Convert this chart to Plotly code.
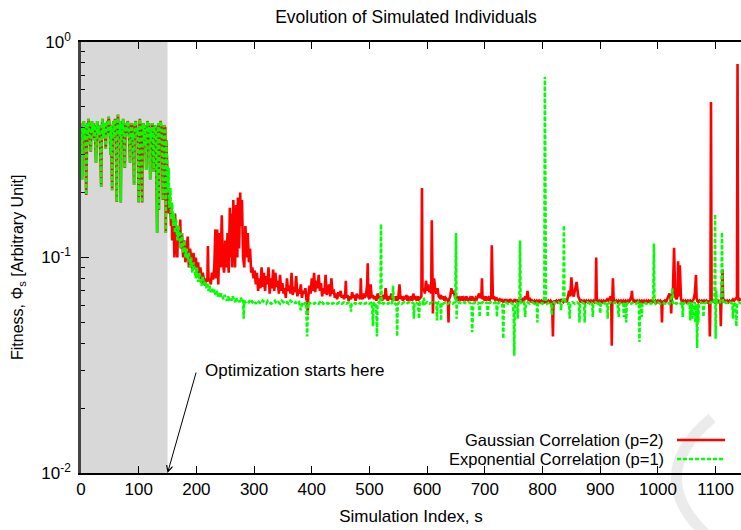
import plotly.graph_objects as go

# ---------------- data ----------------
# initial random-sampling phase (both series identical)
init_x = [0,1,2,3,4,5,6,7,8,9,
          10,11,12,13,14,15,17,18,19,20,
          22,23,24,26,27,28,30,31,33,35,
          36,37,39,40,41,43,44,46,47,48,
          50,51,52,54,55,56,58,59,60,62,
          63,64,65,67,68,69,70,72,73,74,
          76,77,78,80,81,83,85,86,88,89,
          90,92,93,95,96,98,100,101,102,104,
          106,107,108,110,111,113,114,115,117,118,
          120,121,122,124,126,127,128,130,132,133,
          134,135,136,138,140,142,143,144,146,147,
          148,149,150]
init_y = [0.40,0.36,0.23,0.42,0.38,0.43,0.35,0.41,0.33,0.195,
          0.40,0.42,0.37,0.44,0.39,0.36,0.31,0.40,0.43,0.38,
          0.42,0.35,0.41,0.275,0.39,0.43,0.37,0.41,0.34,0.213,
          0.39,0.44,0.36,0.42,0.38,0.32,0.41,0.43,0.37,0.45,
          0.39,0.30,0.41,0.205,0.38,0.43,0.36,0.44,0.40,0.181,
          0.39,0.46,0.41,0.37,0.43,0.18,0.42,0.38,0.44,0.34,
          0.26,0.40,0.42,0.37,0.43,0.39,0.275,0.40,0.42,0.35,
          0.38,0.217,0.41,0.43,0.37,0.40,0.18,0.39,0.44,0.36,
          0.18,0.40,0.42,0.33,0.41,0.255,0.39,0.43,0.38,0.42,
          0.23,0.40,0.36,0.42,0.25,0.39,0.41,0.37,0.13,0.38,
          0.42,0.166,0.40,0.43,0.38,0.185,0.36,0.41,0.40,0.13,
          0.35,0.30,0.25]

# Gaussian correlation (p=2), after optimisation starts
gauss_x = [151,152,154,156,157,158,160,162,163,165,
           167,168,170,172,173,175,177,179,181,183,
           185,187,189,191,193,195,197,199,201,203,
           205,207,209,211,213,215,217,219,220,221,
           223,225,227,229,231,233,234,236,238,240,
           242,244,246,248,250,252,254,256,258,259,
           261,262,264,266,267,269,271,272,274,276,
           277,279,281,283,285,287,289,291,293,295,
           297,299,301,303,305,307,309,311,313,315,
           317,319,321,323,325,327,329,331,333,335,
           337,339,341,343,345,347,349,351,353,355,
           357,359,361,363,365,367,369,371,373,375,
           377,379,381,383,385,387,389,391,392,393,
           394,396,398,400,402,404,406,408,410,412,
           414,416,418,420,422,424,426,428,430,432,
           434,436,438,440,442,444,446,448,450,452,
           454,456,458,459,460,462,464,466,468,470,
           472,474,476,478,480,482,484,485,486,488,
           490,492,494,496,497,498,500,502,504,506,
           508,510,512,514,516,518,520,522,524,526,
           528,530,532,534,536,538,540,542,544,546,
           548,550,552,554,556,558,560,562,564,566,
           568,570,572,574,576,578,580,582,584,586,
           588,590,591,592,594,596,598,600,602,604,
           606,607,608,609,610,611,612,614,616,618,
           620,622,624,626,628,630,632,634,636,637,
           638,640,642,644,646,648,650,652,654,656,
           658,660,662,664,666,668,670,672,674,676,
           678,680,682,684,686,688,690,692,694,695,
           696,698,700,702,704,706,708,710,711,712,
           713,714,716,718,720,722,724,726,728,730,
           732,734,736,738,740,742,744,746,748,750,
           752,754,756,758,760,762,764,766,768,770,
           772,774,776,778,780,782,784,786,788,790,
           792,794,796,798,800,802,804,806,808,810,
           812,814,816,817,818,819,820,822,824,826,
           828,830,832,834,836,838,840,842,844,846,
           848,850,852,854,856,859,862,864,866,868,
           870,872,874,876,878,880,882,884,886,888,
           890,892,893,894,896,898,900,902,904,906,
           908,910,912,914,916,918,919,920,921,922,
           923,924,926,928,930,932,934,936,938,940,
           942,944,946,948,950,952,954,955,956,958,
           960,962,964,966,968,970,972,974,976,978,
           980,982,984,986,988,990,992,994,996,998,
           1000,1002,1004,1006,1007,1008,1010,1012,1014,1016,
           1018,1020,1022,1023,1024,1026,1028,1029,1030,1032,
           1034,1035,1036,1038,1039,1040,1042,1044,1046,1048,
           1050,1052,1054,1056,1058,1060,1062,1064,1066,1067,
           1068,1070,1072,1074,1076,1078,1080,1082,1084,1086,
           1088,1089,1090,1091,1092,1093,1094,1096,1098,1100,
           1102,1104,1106,1108,1109,1110,1111,1112,1113,1114,
           1116,1118,1120,1122,1124,1126,1128,1130,1132,1134,
           1136,1137,1138,1139,1140,1142,1144]
gauss_y = [0.22,0.16,0.19,0.14,0.17,0.12,0.15,0.10,0.16,0.13,
           0.10,0.14,0.12,0.15,0.11,0.13,0.10,0.12,0.095,0.11,
           0.125,0.09,0.11,0.10,0.087,0.105,0.09,0.10,0.085,0.095,
           0.08,0.09,0.076,0.085,0.078,0.074,0.08,0.077,0.113,0.078,
           0.08,0.075,0.085,0.079,0.09,0.135,0.08,0.135,0.075,0.13,
           0.09,0.157,0.095,0.085,0.12,0.09,0.13,0.085,0.17,0.10,
           0.16,0.09,0.185,0.12,0.09,0.175,0.10,0.19,0.11,0.20,
           0.14,0.185,0.10,0.09,0.14,0.10,0.13,0.095,0.11,0.085,
           0.09,0.08,0.087,0.075,0.085,0.07,0.08,0.072,0.09,0.073,
           0.085,0.07,0.082,0.075,0.09,0.068,0.08,0.072,0.088,0.07,
           0.085,0.073,0.078,0.068,0.083,0.07,0.076,0.068,0.072,0.065,
           0.08,0.07,0.074,0.068,0.085,0.067,0.073,0.069,0.082,0.066,
           0.071,0.068,0.075,0.065,0.07,0.068,0.072,0.063,0.066,0.054,
           0.066,0.074,0.068,0.08,0.07,0.085,0.069,0.078,0.072,0.083,
           0.07,0.076,0.066,0.072,0.068,0.083,0.067,0.07,0.075,0.066,
           0.08,0.068,0.071,0.065,0.068,0.064,0.069,0.066,0.07,0.065,
           0.067,0.064,0.068,0.078,0.065,0.067,0.063,0.066,0.064,0.069,
           0.065,0.067,0.063,0.068,0.065,0.066,0.064,0.08,0.066,0.064,
           0.068,0.065,0.067,0.075,0.094,0.066,0.064,0.075,0.065,0.067,
           0.064,0.066,0.063,0.068,0.065,0.064,0.066,0.063,0.067,0.064,
           0.072,0.065,0.063,0.066,0.064,0.068,0.063,0.065,0.064,0.066,
           0.063,0.065,0.075,0.064,0.066,0.063,0.065,0.064,0.067,0.063,
           0.065,0.064,0.066,0.063,0.068,0.064,0.065,0.063,0.066,0.064,
           0.065,0.066,0.21,0.07,0.072,0.068,0.078,0.07,0.075,0.069,
           0.072,0.068,0.149,0.07,0.055,0.075,0.08,0.071,0.068,0.072,
           0.066,0.065,0.067,0.064,0.066,0.063,0.065,0.064,0.063,0.05,
           0.064,0.066,0.072,0.068,0.07,0.066,0.064,0.066,0.063,0.065,
           0.064,0.066,0.063,0.065,0.064,0.066,0.063,0.064,0.065,0.063,
           0.066,0.064,0.063,0.065,0.064,0.066,0.068,0.065,0.066,0.08,
           0.064,0.065,0.063,0.066,0.064,0.065,0.063,0.066,0.064,0.114,
           0.065,0.064,0.066,0.063,0.065,0.064,0.063,0.064,0.063,0.064,
           0.062,0.063,0.064,0.062,0.063,0.062,0.064,0.063,0.062,0.063,
           0.064,0.062,0.063,0.062,0.064,0.063,0.062,0.065,0.063,0.066,
           0.064,0.07,0.063,0.065,0.062,0.063,0.062,0.063,0.062,0.063,
           0.062,0.063,0.062,0.063,0.062,0.063,0.062,0.063,0.062,0.063,
           0.062,0.063,0.062,0.055,0.043,0.062,0.063,0.062,0.063,0.062,
           0.063,0.062,0.064,0.063,0.062,0.063,0.064,0.062,0.065,0.07,
           0.066,0.081,0.068,0.066,0.07,0.077,0.066,0.063,0.062,0.063,
           0.062,0.063,0.062,0.063,0.062,0.063,0.062,0.063,0.062,0.063,
           0.062,0.063,0.1,0.063,0.062,0.063,0.062,0.063,0.062,0.063,
           0.062,0.063,0.064,0.063,0.065,0.066,0.064,0.039,0.065,0.08,
           0.066,0.063,0.062,0.063,0.062,0.063,0.062,0.063,0.062,0.063,
           0.062,0.063,0.062,0.063,0.062,0.064,0.066,0.07,0.064,0.062,
           0.063,0.062,0.063,0.062,0.063,0.062,0.063,0.062,0.063,0.062,
           0.063,0.062,0.063,0.062,0.063,0.062,0.063,0.062,0.063,0.062,
           0.063,0.062,0.063,0.062,0.05,0.063,0.062,0.063,0.062,0.064,
           0.066,0.068,0.064,0.055,0.066,0.07,0.111,0.068,0.066,0.064,
           0.066,0.096,0.066,0.092,0.066,0.064,0.062,0.063,0.062,0.063,
           0.062,0.063,0.062,0.063,0.062,0.063,0.064,0.068,0.083,0.065,
           0.063,0.062,0.063,0.062,0.063,0.062,0.063,0.062,0.063,0.062,
           0.063,0.062,0.043,0.062,0.527,0.063,0.062,0.063,0.062,0.063,
           0.062,0.063,0.062,0.063,0.048,0.063,0.075,0.088,0.064,0.062,
           0.063,0.062,0.063,0.062,0.063,0.062,0.063,0.064,0.063,0.064,
           0.065,0.064,0.79,0.064,0.063,0.064,0.063]

# Exponential correlation (p=1), after optimisation starts
expo_x = [151,152,153,155,156,158,160,161,163,165,
          167,169,171,173,175,177,179,181,183,185,
          187,189,191,193,195,197,199,201,203,205,
          207,209,211,213,215,217,219,221,223,225,
          227,229,231,233,235,237,239,241,243,245,
          247,249,251,253,255,257,259,261,263,265,
          267,269,271,273,275,277,279,281,282,283,
          285,288,291,294,297,300,303,306,309,312,
          315,318,321,324,327,330,333,336,339,342,
          345,348,351,354,357,360,363,366,369,372,
          375,378,381,384,387,390,391,392,393,394,
          396,400,404,408,412,416,420,424,428,432,
          436,440,444,448,452,456,460,464,467,468,
          469,472,476,480,484,488,492,496,500,504,
          505,506,507,510,512,513,514,516,519,520,
          521,524,528,532,536,539,540,541,542,544,
          547,548,549,552,556,560,564,568,572,576,
          577,578,580,584,586,587,588,592,594,596,
          600,604,608,612,616,617,618,620,623,624,
          625,628,632,636,640,644,648,649,650,651,
          652,656,660,664,668,672,676,677,678,680,
          684,688,690,691,692,696,700,704,705,706,
          710,714,718,720,721,722,726,730,731,732,
          733,736,740,744,748,750,751,752,756,757,
          758,760,761,762,764,768,770,771,774,778,
          782,786,790,791,792,796,800,802,803,804,
          805,806,808,812,815,816,817,820,824,828,
          831,832,833,836,837,838,840,844,846,847,
          848,852,856,860,863,864,865,868,872,873,
          874,878,882,886,887,888,892,896,899,900,
          901,904,908,912,913,914,918,922,926,930,
          932,933,936,940,941,942,944,945,946,950,
          954,958,962,966,967,968,969,970,972,973,
          976,980,984,988,991,992,993,994,996,1000,
          1004,1008,1012,1016,1020,1024,1025,1026,1028,1032,
          1036,1040,1042,1043,1044,1048,1052,1055,1056,1057,
          1059,1060,1061,1064,1065,1066,1067,1068,1069,1070,
          1071,1074,1078,1079,1080,1084,1088,1092,1096,1098,
          1099,1100,1101,1102,1104,1108,1110,1111,1112,1114,
          1118,1122,1126,1129,1130,1131,1134,1135,1136,1137,
          1140,1144]
expo_y = [0.2,0.26,0.17,0.21,0.15,0.18,0.14,0.16,0.13,0.15,
          0.12,0.14,0.125,0.11,0.13,0.105,0.12,0.1,0.11,0.098,
          0.105,0.09,0.1,0.085,0.095,0.088,0.08,0.09,0.077,0.085,
          0.08,0.074,0.082,0.075,0.078,0.072,0.076,0.07,0.074,0.069,
          0.072,0.068,0.071,0.067,0.07,0.066,0.069,0.065,0.068,0.066,
          0.064,0.067,0.065,0.063,0.066,0.064,0.065,0.063,0.066,0.064,
          0.062,0.065,0.063,0.064,0.062,0.065,0.063,0.064,0.052,0.063,
          0.062,0.063,0.062,0.064,0.062,0.063,0.061,0.063,0.062,0.061,
          0.063,0.062,0.061,0.063,0.062,0.061,0.062,0.063,0.061,0.062,
          0.061,0.063,0.062,0.061,0.062,0.061,0.063,0.062,0.061,0.062,
          0.061,0.062,0.057,0.062,0.061,0.062,0.055,0.043,0.055,0.062,
          0.061,0.062,0.061,0.062,0.061,0.063,0.061,0.062,0.061,0.062,
          0.061,0.062,0.061,0.062,0.061,0.062,0.061,0.062,0.061,0.056,
          0.061,0.062,0.061,0.062,0.061,0.062,0.061,0.062,0.061,0.062,
          0.055,0.048,0.061,0.062,0.055,0.043,0.061,0.062,0.061,0.143,
          0.062,0.061,0.062,0.061,0.062,0.061,0.065,0.074,0.062,0.061,
          0.06,0.043,0.061,0.062,0.061,0.062,0.061,0.062,0.061,0.062,
          0.052,0.061,0.062,0.061,0.052,0.061,0.062,0.061,0.065,0.061,
          0.062,0.061,0.062,0.061,0.062,0.051,0.061,0.062,0.061,0.051,
          0.062,0.061,0.062,0.061,0.062,0.061,0.062,0.07,0.13,0.052,
          0.061,0.062,0.061,0.062,0.061,0.062,0.061,0.06,0.045,0.061,
          0.062,0.061,0.062,0.053,0.061,0.062,0.061,0.062,0.053,0.061,
          0.062,0.061,0.062,0.061,0.053,0.061,0.062,0.061,0.055,0.042,
          0.061,0.062,0.061,0.062,0.061,0.055,0.035,0.061,0.062,0.052,
          0.061,0.065,0.12,0.062,0.061,0.062,0.053,0.061,0.062,0.061,
          0.062,0.061,0.062,0.05,0.061,0.062,0.061,0.062,0.068,0.69,
          0.067,0.062,0.061,0.062,0.061,0.054,0.061,0.062,0.061,0.062,
          0.061,0.057,0.062,0.064,0.141,0.065,0.062,0.061,0.062,0.052,
          0.061,0.062,0.061,0.062,0.061,0.05,0.061,0.062,0.061,0.05,
          0.061,0.062,0.061,0.062,0.053,0.061,0.062,0.061,0.062,0.055,
          0.061,0.062,0.061,0.062,0.052,0.061,0.062,0.061,0.062,0.061,
          0.053,0.061,0.062,0.061,0.053,0.061,0.062,0.05,0.061,0.062,
          0.061,0.062,0.061,0.062,0.061,0.0405,0.061,0.062,0.053,0.061,
          0.062,0.061,0.062,0.061,0.062,0.068,0.116,0.063,0.061,0.062,
          0.061,0.062,0.061,0.062,0.061,0.066,0.072,0.061,0.062,0.061,
          0.062,0.061,0.062,0.053,0.061,0.062,0.061,0.062,0.051,0.061,
          0.062,0.052,0.061,0.062,0.05,0.061,0.058,0.038,0.061,0.05,
          0.061,0.062,0.061,0.053,0.061,0.062,0.061,0.062,0.061,0.065,
          0.159,0.042,0.07,0.062,0.061,0.062,0.07,0.131,0.065,0.061,
          0.062,0.061,0.062,0.061,0.052,0.061,0.062,0.055,0.048,0.061,
          0.062,0.061]

x_ticks = [0, 100, 200, 300, 400, 500, 600, 700, 800, 900, 1000, 1100]
y_ticks = [0.01, 0.1, 1]
y_ticktext = ["10<sup>-2</sup>", "10<sup>-1</sup>", "10<sup>0</sup>"]
y_minor = [0.02, 0.03, 0.04, 0.05, 0.06, 0.07, 0.08, 0.09,
           0.2, 0.3, 0.4, 0.5, 0.6, 0.7, 0.8, 0.9]
opt_start = 150
x_max = 1144

# ---------------- figure ----------------
FONT = "Liberation Sans, Arial, Helvetica, sans-serif"
fig = go.Figure()

fig.add_trace(go.Scatter(
    x=init_x + gauss_x, y=init_y + gauss_y, mode="lines",
    name="Gaussian Correlation (p=2)",
    line=dict(color="#ff0000", width=2.6)))
fig.add_trace(go.Scatter(
    x=init_x + expo_x, y=init_y + expo_y, mode="lines",
    name="Exponential Correlation (p=1)",
    line=dict(color="#00ff00", width=2.5, dash="4px,2px")))

LEG_Y1 = (473 - 440) / 431
LEG_Y2 = (473 - 459) / 431

shapes = [
    dict(type="rect", xref="x", yref="paper", x0=0, x1=opt_start, y0=0, y1=1,
         fillcolor="#d8d8d8", line=dict(width=0), layer="below"),
    # watermark arc
    dict(type="path", xref="paper", yref="paper",
         path="M 0.9561,0.1276 Q 0.848,-0.0116 0.9561,-0.1555",
         line=dict(color="#ebebeb", width=11), layer="below"),
    # legend samples
    dict(type="line", xref="paper", yref="paper", x0=0.903, x1=0.9758,
         y0=LEG_Y1, y1=LEG_Y1, line=dict(color="#ff0000", width=2.6)),
    dict(type="line", xref="paper", yref="paper", x0=0.903, x1=0.9758,
         y0=LEG_Y2, y1=LEG_Y2, line=dict(color="#00ff00", width=2.5, dash="4px,2px")),
]

annotations = [
    dict(xref="paper", yref="paper", x=0.8864, y=LEG_Y1, xanchor="right", yanchor="middle",
         text="Gaussian Correlation (p=2)", showarrow=False, font=dict(size=16.5, color="black")),
    dict(xref="paper", yref="paper", x=0.8864, y=LEG_Y2, xanchor="right", yanchor="middle",
         text="Exponential Correlation (p=1)", showarrow=False, font=dict(size=16.5, color="black")),
    dict(xref="paper", yref="paper", x=0.1848, y=0.2367, xanchor="left", yanchor="middle",
         text="Optimization starts here", showarrow=False, font=dict(size=17, color="black")),
    dict(xref="x", yref="y", x=opt_start, y=-2, text="", showarrow=True,
         ax=29, ay=-102, arrowhead=5, arrowsize=1.2, arrowwidth=1, arrowcolor="black",
         standoff=0),
    # y-axis title
    dict(xref="paper", yref="paper", x=-(81 - 18) / 660, y=(473 - 267) / 431,
         xanchor="center", yanchor="middle", textangle=-90, showarrow=False,
         text="Fitness, &#934;<sub>s</sub> [Arbitrary Unit]", font=dict(size=16, color="black")),
]

fig.update_layout(
    width=741, height=530,
    margin=dict(l=81, r=0, t=42, b=57),
    paper_bgcolor="white", plot_bgcolor="white",
    font=dict(family=FONT, size=17, color="black"),
    showlegend=False,
    title=dict(text="Evolution of Simulated Individuals", x=406 / 741, xanchor="center",
               y=1 - 17 / 530, yanchor="middle", font=dict(size=17.5)),
    shapes=shapes,
    annotations=annotations,
)

fig.update_xaxes(
    range=[0, x_max], tickvals=x_ticks, ticks="inside", ticklen=7, tickwidth=1,
    tickcolor="black", showline=True, linecolor="black", linewidth=2, mirror="ticks",
    showgrid=False, zeroline=False, tickfont=dict(size=17),
    title=dict(text="Simulation Index, s", font=dict(size=17), standoff=12),
)
fig.update_yaxes(
    type="log", range=[-2, 0], tickvals=y_ticks, ticktext=y_ticktext,
    ticks="inside", ticklen=8, tickwidth=1, tickcolor="black",
    minor=dict(tickvals=y_minor, ticks="inside", ticklen=4, tickcolor="black", showgrid=False),
    showline=True, linecolor="#444444", linewidth=2.5,
    showgrid=False, zeroline=False, tickfont=dict(size=17), ticklabelstandoff=4,
)

fig.write_html("out.html")
